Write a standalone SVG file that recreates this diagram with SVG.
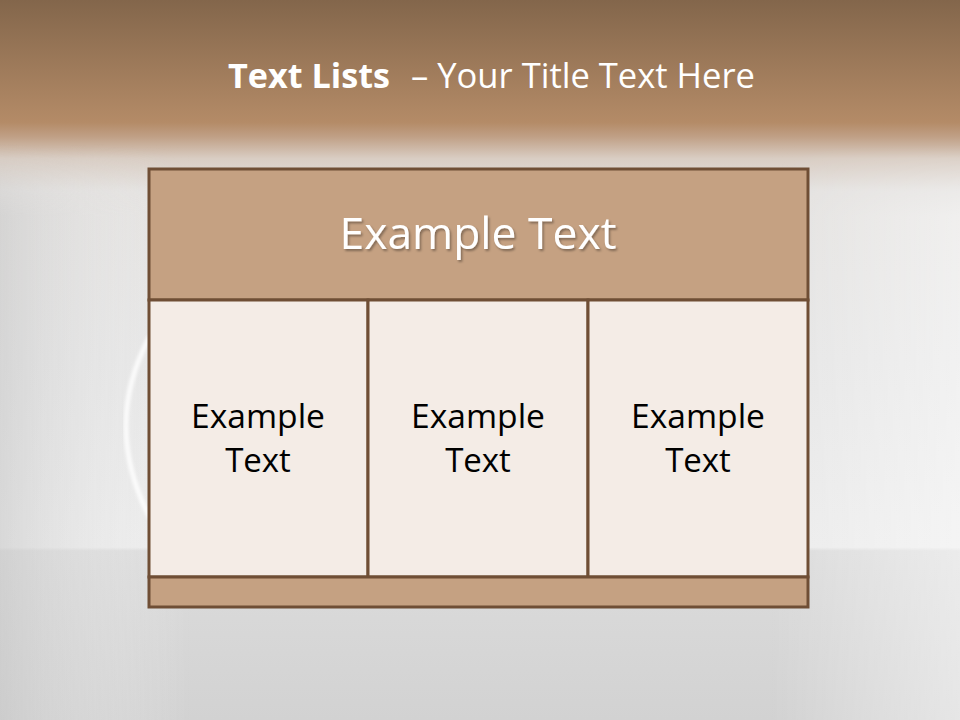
<svg xmlns="http://www.w3.org/2000/svg" width="960" height="720" viewBox="0 0 960 720">
<defs>
<linearGradient id="bg" x1="0" y1="0" x2="0" y2="1">
<stop offset="0" stop-color="#83664b"/>
<stop offset="0.17" stop-color="#b48b67"/>
<stop offset="0.19" stop-color="#c0a086"/>
<stop offset="0.22" stop-color="#d9cdc3"/>
<stop offset="0.265" stop-color="#e4e2e0"/>
<stop offset="0.5" stop-color="#e6e6e6"/>
<stop offset="0.76" stop-color="#ececec"/>
<stop offset="0.765" stop-color="#dcdcdc"/>
<stop offset="1" stop-color="#d2d2d2"/>
</linearGradient>
<linearGradient id="side" x1="0" y1="0" x2="1" y2="0">
<stop offset="0" stop-color="#c8c8c8" stop-opacity="0.55"/>
<stop offset="0.2" stop-color="#ffffff" stop-opacity="0"/>
<stop offset="0.8" stop-color="#ffffff" stop-opacity="0"/>
<stop offset="1" stop-color="#ffffff" stop-opacity="0.45"/>
</linearGradient>
<linearGradient id="vfade" x1="0" y1="0" x2="0" y2="1">
<stop offset="0" stop-color="#000"/>
<stop offset="0.2" stop-color="#000"/>
<stop offset="0.3" stop-color="#fff"/>
<stop offset="1" stop-color="#fff"/>
</linearGradient>
<mask id="m"><rect width="960" height="720" fill="url(#vfade)"/></mask>
<filter id="sh" x="-10%" y="-20%" width="120%" height="150%">
<feDropShadow dx="1.5" dy="2" stdDeviation="1" flood-color="#000" flood-opacity="0.35"/>
</filter>
<filter id="blur"><feGaussianBlur stdDeviation="1.5"/></filter>
<style>
.cell{fill:#f4ece6;stroke:#6f4e35;stroke-width:3}
.band{fill:#c5a182;stroke:#6f4e35;stroke-width:3}
.ct{font-family:"Open Sans","Liberation Sans",sans-serif;font-size:33px;fill:#000;text-anchor:middle}
</style>
</defs>
<rect width="960" height="720" fill="url(#bg)"/>
<rect width="960" height="720" fill="url(#side)" mask="url(#m)"/>
<path d="M150 336 Q102 425 150 518" fill="none" stroke="#ffffff" stroke-opacity="0.8" stroke-width="5" filter="url(#blur)"/>
<g id="title">
<text x="228" y="88" font-family="Open Sans,'Liberation Sans',sans-serif" font-size="34" font-weight="bold" fill="#fff" textLength="162" lengthAdjust="spacingAndGlyphs">Text Lists</text>
<text x="411" y="88" font-family="Open Sans,'Liberation Sans',sans-serif" font-size="34" fill="#fff" textLength="344" lengthAdjust="spacingAndGlyphs">– Your Title Text Here</text>
</g>
<g id="table">
<g id="header">
<rect class="band" x="149" y="169" width="659" height="131"/>
<text x="478" y="249" font-family="Open Sans,'Liberation Sans',sans-serif" font-size="44" fill="#fff" text-anchor="middle" filter="url(#sh)" textLength="277" lengthAdjust="spacingAndGlyphs">Example Text</text>
</g>
<g id="cell1">
<rect class="cell" x="149" y="300" width="219" height="277"/>
<text class="ct" x="258" y="428" textLength="134" lengthAdjust="spacingAndGlyphs">Example</text>
<text class="ct" x="258" y="472">Text</text>
</g>
<g id="cell2">
<rect class="cell" x="368" y="300" width="220" height="277"/>
<text class="ct" x="478" y="428" textLength="134" lengthAdjust="spacingAndGlyphs">Example</text>
<text class="ct" x="478" y="472">Text</text>
</g>
<g id="cell3">
<rect class="cell" x="588" y="300" width="220" height="277"/>
<text class="ct" x="698" y="428" textLength="134" lengthAdjust="spacingAndGlyphs">Example</text>
<text class="ct" x="698" y="472">Text</text>
</g>
<g id="footer">
<rect class="band" x="149" y="577" width="659" height="30"/>
</g>
</g>
</svg>
